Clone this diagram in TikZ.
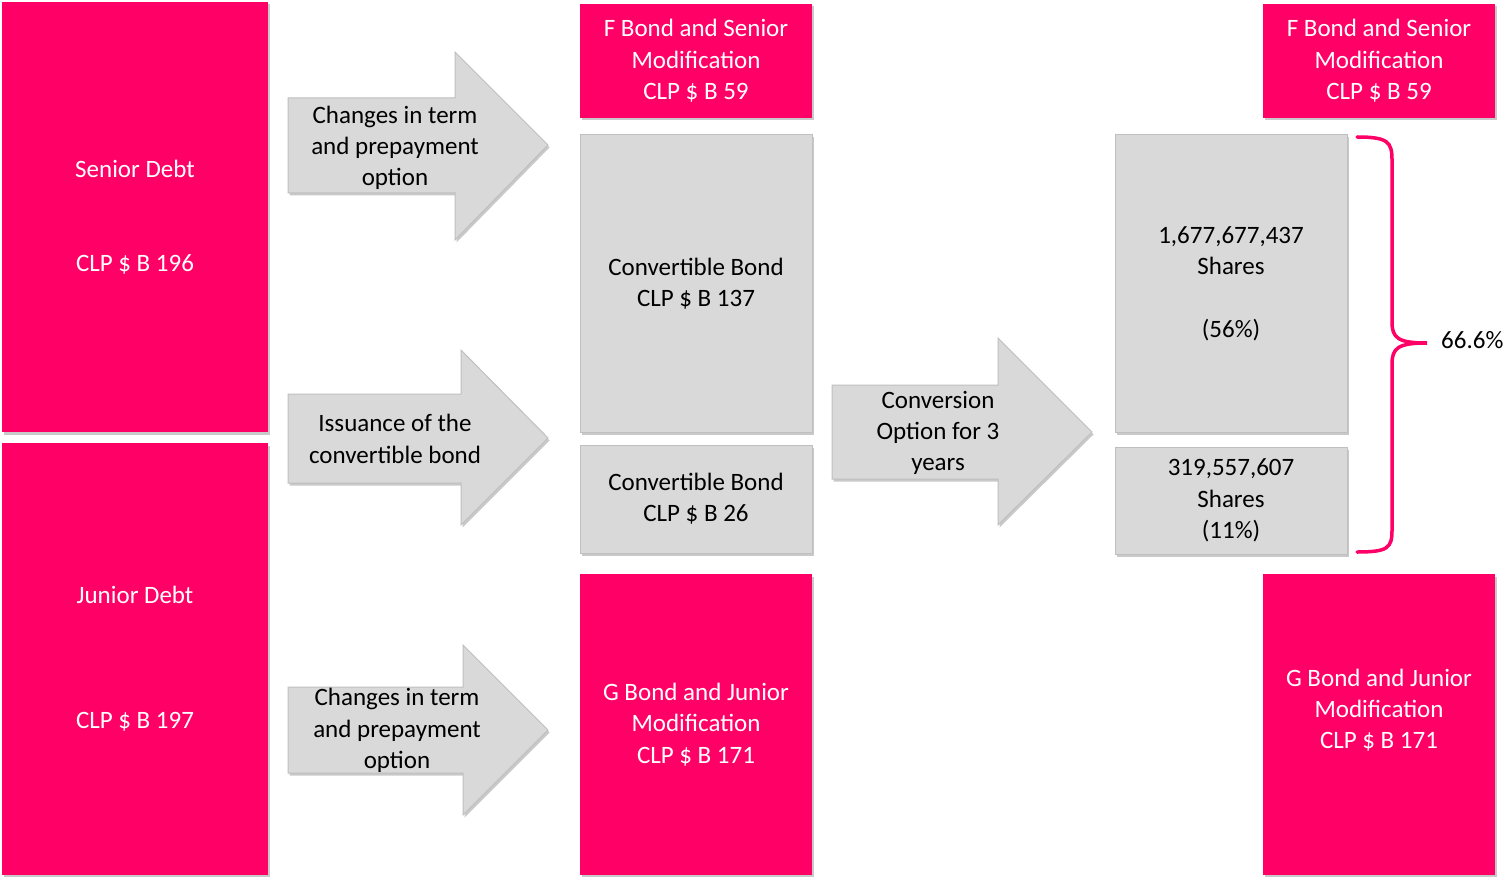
\documentclass[tikz,border=0pt]{standalone}
\usepackage{fontspec}
\setmainfont{Carlito}
\usetikzlibrary{shadows}
\definecolor{debtpink}{HTML}{FF0066}
\definecolor{bondgray}{HTML}{D9D9D9}
\definecolor{edgegray}{HTML}{BFBFBF}
\tikzset{
    every node/.style={inner sep=0pt, align=center, font=\fontsize{25}{31.3}\selectfont},
    softshadow/.style={drop shadow={shadow xshift=1.5pt, shadow yshift=-2.5pt, opacity=.3, fill=black!70}}
}
\tikzset{pinkbox/.style={rectangle, fill=debtpink, text=white, softshadow}}
\tikzset{graybox/.style={rectangle, fill=bondgray, draw=edgegray, line width=1pt, softshadow}}
\tikzset{blockarrow/.style={fill=bondgray, draw=edgegray, line width=1pt, line join=miter, softshadow}}
\tikzset{bracepath/.style={draw=debtpink, line width=3.5pt, line cap=round}}

\begin{document}
\begin{tikzpicture}[x=1pt, y=-1pt]
        \useasboundingbox (0,0) rectangle (1506,877);
        % debt on the left
        \node (senior) [pinkbox, minimum width=266, minimum height=430] at (135,217) {Senior Debt\\[62.6pt]CLP \$ B 196};
        \node (junior) [pinkbox, minimum width=266, minimum height=432] at (135,659) {Junior Debt\\[93.9pt]CLP \$ B 197};
        % arrows
        \path[blockarrow] (288,98) -- (455,98) -- (455,52) -- (548,145) -- (455,240) -- (455,193) -- (288,193) -- cycle;
        \path[blockarrow] (288,394) -- (461,394) -- (461,350) -- (548,438) -- (461,525) -- (461,483) -- (288,483) -- cycle;
        \path[blockarrow] (288,687) -- (463,687) -- (463,645) -- (548,730) -- (463,815) -- (463,773) -- (288,773) -- cycle;
        \path[blockarrow] (832,385) -- (998,385) -- (998,338) -- (1092,432) -- (998,525) -- (998,479) -- (832,479) -- cycle;
        \node (a1) at (395,148) {Changes in term\\and prepayment\\option};
        \node (a2) at (395,439) {Issuance of the\\convertible bond};
        \node (a3) at (397,730.5) {Changes in term\\and prepayment\\option};
        \node (a4) at (938,433) {Conversion\\Option for 3\\years};
        % middle column
        \node (fmid) [pinkbox, minimum width=232, minimum height=114] at (696,61) {F Bond and Senior\\Modification\\CLP \$ B 59};
        \node (cb1) [graybox, minimum width=232, minimum height=297] at (696,283.5) {Convertible Bond\\CLP \$ B 137};
        \node (cb2) [graybox, minimum width=232, minimum height=108] at (696,499) {Convertible Bond\\CLP \$ B 26};
        \node (gmid) [pinkbox, minimum width=232, minimum height=301] at (696,724.5) {G Bond and Junior\\Modification\\CLP \$ B 171};
        % right column
        \node (fright) [pinkbox, minimum width=232, minimum height=114] at (1379,61) {F Bond and Senior\\Modification\\CLP \$ B 59};
        \node (sh1) [graybox, minimum width=232, minimum height=297] at (1231,283.5) {1,677,677,437\\Shares\\[31.3pt](56\%)};
        \node (sh2) [graybox, minimum width=232, minimum height=107] at (1231,500.5) {319,557,607\\Shares\\(11\%)};
        \node (gright) [pinkbox, minimum width=232, minimum height=301] at (1379,724.5) {G Bond and Junior\\Modification\\CLP \$ B 171\\};
        % brace
        \coordinate (bracetip) at (1427,343);
        \draw[bracepath] (1357,137) .. controls (1388,137) and (1392,142) .. (1392,160) -- (1392,322)
                .. controls (1392,338) and (1398,343) .. (bracetip)
                .. controls (1398,343) and (1392,348) .. (1392,364) -- (1392,530)
                .. controls (1392,548) and (1388,552) .. (1357,552);
        \node (share) [anchor=west] at ([xshift=14pt, yshift=3pt]bracetip) {66.6\%};
\end{tikzpicture}
\end{document}
